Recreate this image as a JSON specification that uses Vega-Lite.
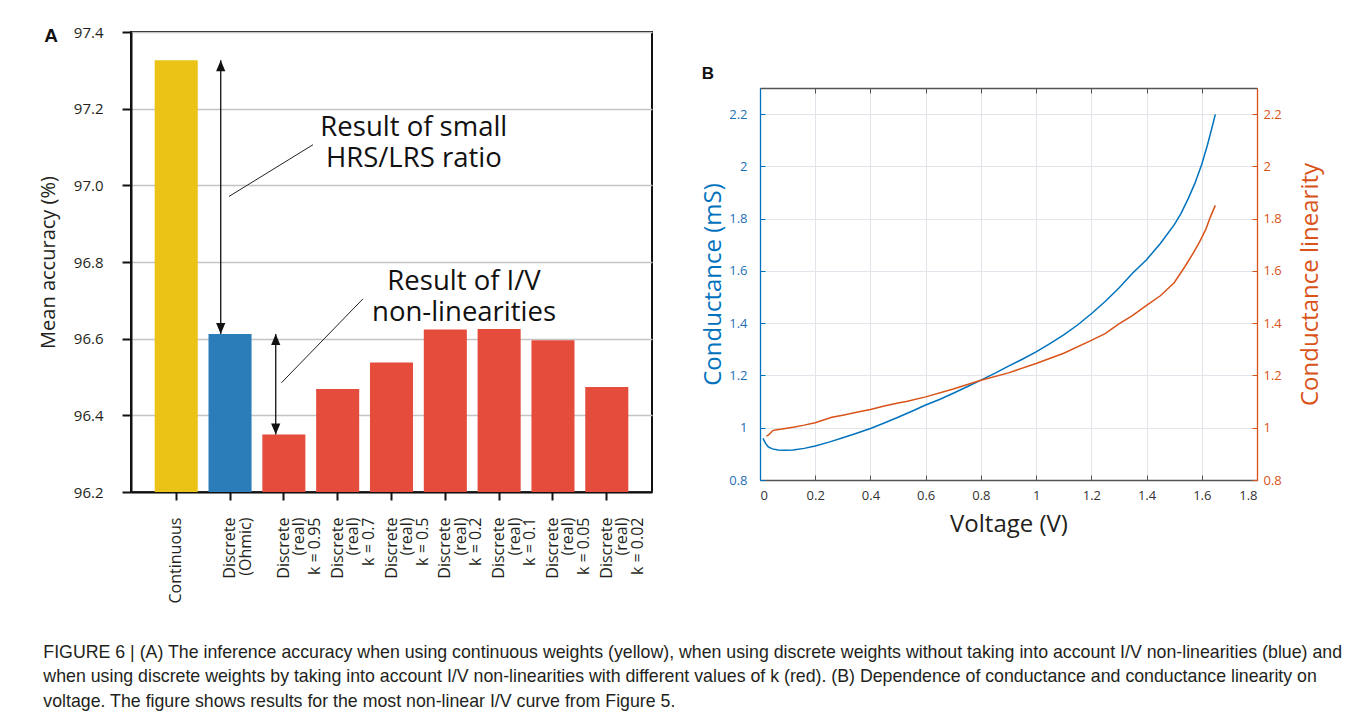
{
  "$schema": "https://vega.github.io/schema/vega-lite/v6.json",
  "background": "white",
  "padding": {"left": 37, "top": 24, "right": 0, "bottom": 0},
  "spacing": 48,
  "align": "none",
  "title": {
    "text": [
      "FIGURE 6 | (A) The inference accuracy when using continuous weights (yellow), when using discrete weights without taking into account I/V non-linearities (blue) and",
      "when using discrete weights by taking into account I/V non-linearities with different values of k (red). (B) Dependence of conductance and conductance linearity on",
      "voltage. The figure shows results for the most non-linear I/V curve from Figure 5."
    ],
    "orient": "bottom",
    "anchor": "start",
    "frame": "bounds",
    "font": "Liberation Sans",
    "fontSize": 17.75,
    "fontWeight": "normal",
    "color": "#231f20",
    "lineHeight": 24.5,
    "offset": 40,
    "dx": 6
  },
  "hconcat": [
    {
      "width": 521,
      "height": 460,
      "title": {"text": "A", "anchor": "start", "frame": "bounds", "font": "Liberation Sans", "fontSize": 19, "fontWeight": "bold", "color": "#111111", "offset": 0, "dy": 21, "dx": 6},
      "view": {"stroke": "#111111", "strokeWidth": 2},
      "layer": [
        {
          "data": {"values": [
            {"setting": "Continuous", "weights": "continuous", "accuracy": 97.326},
            {"setting": "Discrete (Ohmic)", "weights": "ohmic", "accuracy": 96.612},
            {"setting": "Discrete (real) k = 0.95", "weights": "real", "accuracy": 96.350},
            {"setting": "Discrete (real) k = 0.7", "weights": "real", "accuracy": 96.469},
            {"setting": "Discrete (real) k = 0.5", "weights": "real", "accuracy": 96.538},
            {"setting": "Discrete (real) k = 0.2", "weights": "real", "accuracy": 96.624},
            {"setting": "Discrete (real) k = 0.1", "weights": "real", "accuracy": 96.625},
            {"setting": "Discrete (real) k = 0.05", "weights": "real", "accuracy": 96.596},
            {"setting": "Discrete (real) k = 0.02", "weights": "real", "accuracy": 96.474}
          ]},
          "mark": {"type": "bar", "clip": true},
          "encoding": {
            "x": {
              "field": "setting", "type": "nominal", "sort": null,
              "scale": {"paddingInner": 0.2, "paddingOuter": 0.44},
              "axis": {
                "title": null,
                "labelAngle": -90,
                "labelAlign": "right",
                "labelBaseline": "middle",
                "labelFont": "Open Sans",
                "labelFontSize": 16,
                "labelLineHeight": 15.5,
                "labelColor": "#231f20",
                "labelPadding": 17,
                "labelExpr": "split(replace(replace(datum.label, ' (', '\\n('), ') ', ')\\n'), '\\n')",
                "encode": {"labels": {"update": {"dy": {"signal": "indexof(datum.value, ') ') >= 0 ? -15.5 : (indexof(datum.value, ' (') >= 0 ? -7.75 : 0)"}}}},
                "tickSize": 8,
                "tickWidth": 2,
                "tickColor": "#111111",
                "domainColor": "#111111",
                "domainWidth": 2,
                "grid": false
              }
            },
            "y": {
              "field": "accuracy", "type": "quantitative", "title": "Mean accuracy (%)",
              "scale": {"domain": [96.2, 97.4], "zero": false, "nice": false},
              "axis": {
                "values": [96.2, 96.4, 96.6, 96.8, 97.0, 97.2, 97.4],
                "format": ".1f",
                "labelFont": "Open Sans",
                "labelFontSize": 15,
                "labelColor": "#231f20",
                "labelPadding": 19,
                "tickSize": 9,
                "tickWidth": 2,
                "tickColor": "#111111",
                "domainColor": "#111111",
                "domainWidth": 2,
                "grid": true,
                "gridColor": "#c4c4c4",
                "gridWidth": 1.6,
                "titleFont": "Open Sans",
                "titleFontSize": 20,
                "titleFontWeight": "normal",
                "titleColor": "#231f20",
                "titlePadding": 15
              }
            },
            "color": {
              "field": "weights", "type": "nominal", "legend": null,
              "scale": {"domain": ["continuous", "ohmic", "real"], "range": ["#ebc216", "#2a7db8", "#e54c3c"]}
            }
          }
        },
        {
          "data": {"values": [
            {"pos": 0.827, "from": 97.326, "to": 96.612},
            {"pos": 1.849, "from": 96.612, "to": 96.350}
          ]},
          "layer": [
            {
              "mark": {"type": "rule", "color": "#111111", "strokeWidth": 1.3},
              "encoding": {
                "x": {"field": "pos", "type": "quantitative", "scale": {"domain": [-0.84, 8.84], "nice": false, "zero": false}, "axis": null},
                "y": {"field": "from", "type": "quantitative", "title": "Mean accuracy (%)", "scale": {"domain": [96.2, 97.4], "zero": false, "nice": false}},
                "y2": {"field": "to"}
              }
            },
            {
              "mark": {"type": "point", "shape": "M0,0L-0.42,1L0.42,1Z", "filled": true, "color": "#111111", "opacity": 1, "size": 484, "strokeWidth": 0},
              "encoding": {
                "x": {"field": "pos", "type": "quantitative", "scale": {"domain": [-0.84, 8.84], "nice": false, "zero": false}, "axis": null},
                "y": {"field": "from", "type": "quantitative", "title": "Mean accuracy (%)", "scale": {"domain": [96.2, 97.4], "zero": false, "nice": false}}
              }
            },
            {
              "mark": {"type": "point", "shape": "M0,0L-0.42,-1L0.42,-1Z", "filled": true, "color": "#111111", "opacity": 1, "size": 484, "strokeWidth": 0},
              "encoding": {
                "x": {"field": "pos", "type": "quantitative", "scale": {"domain": [-0.84, 8.84], "nice": false, "zero": false}, "axis": null},
                "y": {"field": "to", "type": "quantitative", "title": "Mean accuracy (%)", "scale": {"domain": [96.2, 97.4], "zero": false, "nice": false}}
              }
            }
          ],
          "resolve": {"scale": {"x": "shared"}}
        },
        {
          "data": {"values": [
            {"pos": 0.981, "acc": 96.971, "pos2": 2.542, "acc2": 97.106},
            {"pos": 1.955, "acc": 96.485, "pos2": 3.471, "acc2": 96.704}
          ]},
          "mark": {"type": "rule", "color": "#222222", "strokeWidth": 1},
          "encoding": {
            "x": {"field": "pos", "type": "quantitative", "scale": {"domain": [-0.84, 8.84], "nice": false, "zero": false}, "axis": null},
            "x2": {"field": "pos2"},
            "y": {"field": "acc", "type": "quantitative", "title": "Mean accuracy (%)", "scale": {"domain": [96.2, 97.4], "zero": false, "nice": false}},
            "y2": {"field": "acc2"}
          }
        },
        {
          "data": {"values": [
            {"pos": 4.415, "acc": 97.15, "note": "Result of small\nHRS/LRS ratio"},
            {"pos": 5.348, "acc": 96.749, "note": "Result of I/V\nnon-linearities"}
          ]},
          "mark": {"type": "text", "font": "Open Sans", "fontSize": 27.5, "lineHeight": 31.5, "lineBreak": "\n", "align": "center", "baseline": "middle", "color": "#111111"},
          "encoding": {
            "x": {"field": "pos", "type": "quantitative", "scale": {"domain": [-0.84, 8.84], "nice": false, "zero": false}, "axis": null},
            "y": {"field": "acc", "type": "quantitative", "title": "Mean accuracy (%)", "scale": {"domain": [96.2, 97.4], "zero": false, "nice": false}},
            "text": {"field": "note", "type": "nominal"}
          }
        }
      ],
      "resolve": {"scale": {"x": "independent"}}
    },
    {
      "spacing": 0,
      "vconcat": [
        {
          "width": 1,
          "height": 31.7,
          "data": {"values": []},
          "mark": {"type": "point", "opacity": 0}
        },
        {
          "width": 497,
          "height": 392,
          "title": {"text": "B", "anchor": "start", "frame": "bounds", "font": "Liberation Sans", "fontSize": 17, "fontWeight": "bold", "color": "#111111", "offset": 5},
          "layer": [
            {
              "data": {"values": [
                {"voltage": 0.011, "conductance": 0.959},
                {"voltage": 0.02, "conductance": 0.94},
                {"voltage": 0.03, "conductance": 0.927},
                {"voltage": 0.045, "conductance": 0.919},
                {"voltage": 0.065, "conductance": 0.915},
                {"voltage": 0.09, "conductance": 0.914},
                {"voltage": 0.12, "conductance": 0.915},
                {"voltage": 0.16, "conductance": 0.921},
                {"voltage": 0.2, "conductance": 0.93},
                {"voltage": 0.25, "conductance": 0.945},
                {"voltage": 0.3, "conductance": 0.962},
                {"voltage": 0.35, "conductance": 0.979},
                {"voltage": 0.4, "conductance": 0.997},
                {"voltage": 0.45, "conductance": 1.018},
                {"voltage": 0.5, "conductance": 1.04},
                {"voltage": 0.55, "conductance": 1.063},
                {"voltage": 0.6, "conductance": 1.087},
                {"voltage": 0.65, "conductance": 1.108},
                {"voltage": 0.7, "conductance": 1.132},
                {"voltage": 0.75, "conductance": 1.157},
                {"voltage": 0.8, "conductance": 1.182},
                {"voltage": 0.85, "conductance": 1.208},
                {"voltage": 0.9, "conductance": 1.236},
                {"voltage": 0.95, "conductance": 1.262},
                {"voltage": 1.0, "conductance": 1.29},
                {"voltage": 1.05, "conductance": 1.322},
                {"voltage": 1.1, "conductance": 1.355},
                {"voltage": 1.15, "conductance": 1.393},
                {"voltage": 1.2, "conductance": 1.436},
                {"voltage": 1.25, "conductance": 1.483},
                {"voltage": 1.3, "conductance": 1.535},
                {"voltage": 1.35, "conductance": 1.592},
                {"voltage": 1.4, "conductance": 1.643},
                {"voltage": 1.45, "conductance": 1.705},
                {"voltage": 1.5, "conductance": 1.776},
                {"voltage": 1.525, "conductance": 1.82},
                {"voltage": 1.55, "conductance": 1.875},
                {"voltage": 1.575, "conductance": 1.935},
                {"voltage": 1.6, "conductance": 2.008},
                {"voltage": 1.62, "conductance": 2.08},
                {"voltage": 1.635, "conductance": 2.14},
                {"voltage": 1.649, "conductance": 2.199}
              ]},
              "mark": {"type": "line", "color": "#0072bd", "strokeWidth": 1.5},
              "encoding": {
                "x": {
                  "field": "voltage", "type": "quantitative", "title": "Voltage (V)",
                  "scale": {"domain": [0, 1.8], "nice": false, "zero": false},
                  "axis": {
                    "values": [0, 0.2, 0.4, 0.6, 0.8, 1.0, 1.2, 1.4, 1.6, 1.8],
                    "format": "~g",
                    "labelFont": "Open Sans",
                    "labelFontSize": 13,
                    "labelColor": "#333333",
                    "labelPadding": 14,
                    "tickSize": -5,
                    "tickColor": "#555555",
                    "domainColor": "#555555",
                    "domainWidth": 1.3,
                    "grid": true,
                    "gridColor": "#e1e4ea",
                    "gridWidth": 1,
                    "titleFont": "Open Sans",
                    "titleFontSize": 24,
                    "titleFontWeight": "normal",
                    "titleColor": "#231f20",
                    "titlePadding": 10
                  }
                },
                "y": {
                  "field": "conductance", "type": "quantitative", "title": "Conductance (mS)",
                  "scale": {"domain": [0.8, 2.3], "nice": false, "zero": false},
                  "axis": {
                    "values": [0.8, 1.0, 1.2, 1.4, 1.6, 1.8, 2.0, 2.2],
                    "format": "~g",
                    "labelFont": "Open Sans",
                    "labelFontSize": 13,
                    "labelColor": "#1f6fb5",
                    "labelPadding": 18,
                    "tickSize": -5,
                    "tickColor": "#0072bd",
                    "domainColor": "#0072bd",
                    "domainWidth": 1.3,
                    "grid": true,
                    "gridColor": "#e1e4ea",
                    "gridWidth": 1,
                    "titleFont": "Open Sans",
                    "titleFontSize": 24,
                    "titleFontWeight": "normal",
                    "titleColor": "#0072bd",
                    "titlePadding": 3
                  }
                }
              }
            },
            {
              "data": {"values": [
                {"voltage": 0.023, "linearity": 0.968},
                {"voltage": 0.03, "linearity": 0.972},
                {"voltage": 0.04, "linearity": 0.982},
                {"voltage": 0.046, "linearity": 0.989},
                {"voltage": 0.06, "linearity": 0.992},
                {"voltage": 0.08, "linearity": 0.995},
                {"voltage": 0.12, "linearity": 1.002},
                {"voltage": 0.16, "linearity": 1.01},
                {"voltage": 0.2, "linearity": 1.019},
                {"voltage": 0.26, "linearity": 1.04},
                {"voltage": 0.3, "linearity": 1.048},
                {"voltage": 0.35, "linearity": 1.059},
                {"voltage": 0.4, "linearity": 1.07},
                {"voltage": 0.45, "linearity": 1.083},
                {"voltage": 0.5, "linearity": 1.095},
                {"voltage": 0.53, "linearity": 1.1},
                {"voltage": 0.6, "linearity": 1.118},
                {"voltage": 0.7, "linearity": 1.148},
                {"voltage": 0.8, "linearity": 1.182},
                {"voltage": 0.9, "linearity": 1.21},
                {"voltage": 1.0, "linearity": 1.246},
                {"voltage": 1.1, "linearity": 1.285},
                {"voltage": 1.2, "linearity": 1.334},
                {"voltage": 1.25, "linearity": 1.36},
                {"voltage": 1.3, "linearity": 1.397},
                {"voltage": 1.35, "linearity": 1.43},
                {"voltage": 1.4, "linearity": 1.468},
                {"voltage": 1.45, "linearity": 1.505},
                {"voltage": 1.5, "linearity": 1.555},
                {"voltage": 1.538, "linearity": 1.615},
                {"voltage": 1.57, "linearity": 1.67},
                {"voltage": 1.592, "linearity": 1.711},
                {"voltage": 1.615, "linearity": 1.76},
                {"voltage": 1.631, "linearity": 1.806},
                {"voltage": 1.649, "linearity": 1.851}
              ]},
              "mark": {"type": "line", "color": "#d95319", "strokeWidth": 1.5},
              "encoding": {
                "x": {
                  "field": "voltage", "type": "quantitative",
                  "scale": {"domain": [0, 1.8], "nice": false, "zero": false},
                  "axis": {
                    "orient": "top",
                    "values": [0, 0.2, 0.4, 0.6, 0.8, 1.0, 1.2, 1.4, 1.6, 1.8],
                    "labels": false,
                    "title": null,
                    "tickSize": -5,
                    "tickColor": "#555555",
                    "domainColor": "#555555",
                    "domainWidth": 1.3,
                    "grid": false
                  }
                },
                "y": {
                  "field": "linearity", "type": "quantitative", "title": "Conductance linearity",
                  "scale": {"domain": [0.8, 2.3], "nice": false, "zero": false},
                  "axis": {
                    "orient": "right",
                    "values": [0.8, 1.0, 1.2, 1.4, 1.6, 1.8, 2.0, 2.2],
                    "format": "~g",
                    "labelFont": "Open Sans",
                    "labelFontSize": 13,
                    "labelColor": "#d95319",
                    "labelPadding": 11,
                    "tickSize": -5,
                    "tickColor": "#d95319",
                    "domainColor": "#d95319",
                    "domainWidth": 1.3,
                    "grid": false,
                    "titleFont": "Open Sans",
                    "titleFontSize": 24,
                    "titleFontWeight": "normal",
                    "titleColor": "#d95319",
                    "titleAngle": -90,
                    "titleBaseline": "top",
                    "titlePadding": 17
                  }
                }
              }
            }
          ],
          "resolve": {"scale": {"y": "independent"}, "axis": {"x": "independent"}}
        }
      ]
    }
  ],
  "config": {
    "font": "Open Sans",
    "view": {"stroke": null}
  }
}
